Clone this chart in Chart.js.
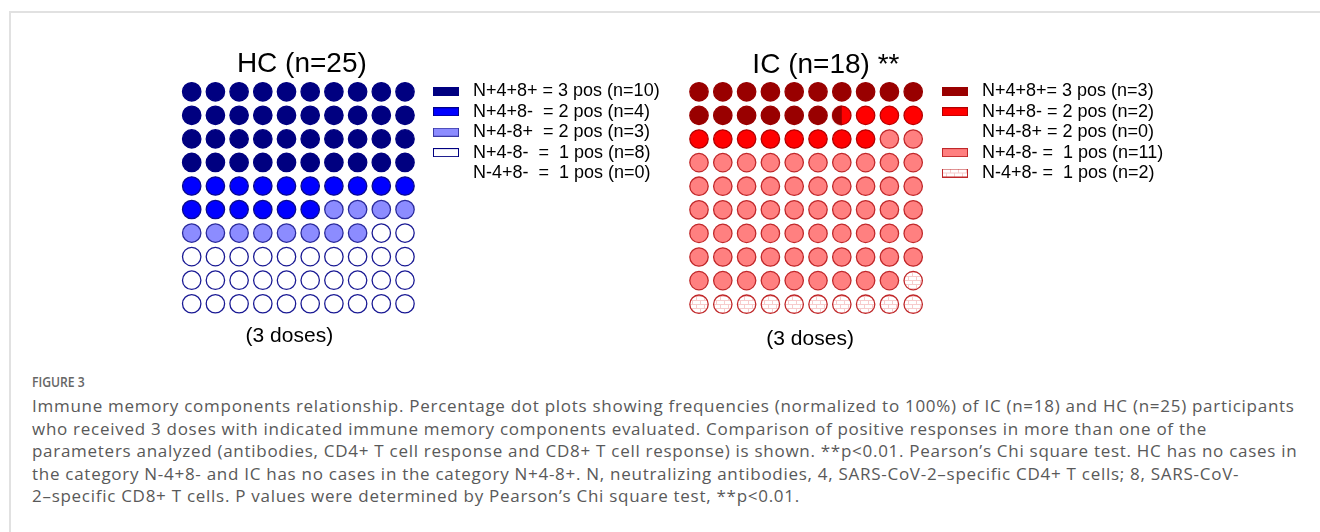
<!DOCTYPE html>
<html>
<head>
<meta charset="utf-8">
<script src="https://cdn.jsdelivr.net/npm/chart.js@4.4.1/dist/chart.umd.min.js"></script>
<style>
  html, body { margin: 0; padding: 0; background: #fff; width: 1320px; height: 532px; overflow: hidden; }
  #frame { position: absolute; left: 9px; top: 11px; width: 1400px; height: 600px;
           border-left: 2px solid #e1e1e1; border-top: 2px solid #e1e1e1; }
  canvas { position: absolute; top: 0; }
  #hc { left: 100px; }
  #ic { left: 600px; }
  .cap { position: absolute; left: 32px; white-space: nowrap; font-family: "Open Sans", sans-serif; }
  #figlabel { top: 372px; font-size: 14.5px; line-height: 20px; font-weight: 600; color: #666;
              transform: scaleX(0.84); transform-origin: left center; }
  #figtext { top: 395px; font-size: 17px; line-height: 22.6px; letter-spacing: 0.72px; color: #595959; }
</style>
</head>
<body>
<div id="frame"></div>
<canvas id="hc" width="600" height="360"></canvas>
<canvas id="ic" width="620" height="360"></canvas>
<div id="figlabel" class="cap">FIGURE 3</div>
<div id="figtext" class="cap">Immune memory components relationship. Percentage dot plots showing frequencies (normalized to 100%) of IC (n=18) and HC (n=25) participants<br>who received 3 doses with indicated immune memory components evaluated. Comparison of positive responses in more than one of the<br>parameters analyzed (antibodies, CD4+ T cell response and CD8+ T cell response) is shown. **p&lt;0.01. Pearson’s Chi square test. HC has no cases in<br>the category N-4+8- and IC has no cases in the category N+4-8+. N, neutralizing antibodies, 4, SARS-CoV-2–specific CD4+ T cells; 8, SARS-CoV-<br>2–specific CD8+ T cells. P values were determined by Pearson’s Chi square test, **p&lt;0.01.</div>

<script>
// ---- data ----
const hcLegend = ['N+4+8+ = 3 pos', 'N+4+8-  = 2 pos', 'N+4-8+  = 2 pos', 'N+4-8-  =  1 pos', 'N-4+8-  =  1 pos'];
const icLegend = ['N+4+8+= 3 pos', 'N+4+8- = 2 pos', 'N+4-8+ = 2 pos', 'N+4-8- =  1 pos', 'N-4+8- =  1 pos'];
const hcCounts = [10, 4, 3, 8, 0];
const icCounts = [3, 2, 0, 11, 2];
const hcTitle = 'HC (n=25)';
const icTitle = 'IC (n=18)';
const icMark = ' **';
const doseLabel = '(3 doses)';

// ---- styles ----
const FONT = '"Liberation Sans", Arial, sans-serif';
const LEGEND_SIZE = 18;
const LEGEND_PAD = 2.4;
const SWATCH_SLOT = 36;          // legend box slot width (pointStyleWidth)
const SWATCH_W = 26, SWATCH_H = 9;
const DOT_R = 9.2, DOT_BW = 1.3;

function makeCanvas(w, h) {
  const c = document.createElement('canvas');
  c.width = w; c.height = h;
  return c;
}

// light brick hatch used for the N-4+8- group
const brickTile = makeCanvas(8, 8);
(() => {
  const g = brickTile.getContext('2d');
  g.fillStyle = '#ffffff'; g.fillRect(0, 0, 8, 8);
  g.strokeStyle = '#f7cccc'; g.lineWidth = 1;
  g.beginPath();
  g.moveTo(0, 0.5); g.lineTo(8, 0.5);
  g.moveTo(0, 4.5); g.lineTo(8, 4.5);
  g.moveTo(0.5, 0); g.lineTo(0.5, 4);
  g.moveTo(4.5, 4); g.lineTo(4.5, 8);
  g.stroke();
})();
const brick = makeCanvas(1, 1).getContext('2d').createPattern(brickTile, 'repeat');

const hcStyle = {
  fill:   ['#000080', '#0000ff', '#8c8cff', '#ffffff', '#ffffff'],
  border: ['#000080', '#0a0a8c', '#2a2a9c', '#1a1a94', '#1a1a94'],
  swatchBorder: ['#000080', '#00008b', '#3a3aa6', '#000080', null]
};
const icStyle = {
  fill:   ['#990000', '#ff0000', '#ff0000', '#ff8080', brick],
  border: ['#990000', '#b40000', '#b40000', '#c0282a', '#c0282a'],
  swatchBorder: ['#990000', '#b40000', null, '#c0282a', '#c0282a']
};

function swatch(fill, border) {
  const c = makeCanvas(SWATCH_W, SWATCH_H);
  if (!border) return c;                     // empty category: no swatch
  const g = c.getContext('2d');
  g.fillStyle = fill; g.fillRect(0, 0, SWATCH_W, SWATCH_H);
  g.strokeStyle = border; g.lineWidth = 1;
  g.strokeRect(0.5, 0.5, SWATCH_W - 1, SWATCH_H - 1);
  return c;
}

// dot partly covered from the left (fraction f of its width)
function partialDot(fill, border, f) {
  const s = 22, c = makeCanvas(s, s), g = c.getContext('2d');
  const R = DOT_R + DOT_BW / 2;
  g.beginPath(); g.rect(0, 0, s / 2 - R + 2 * R * f, s); g.clip();
  g.beginPath(); g.arc(s / 2, s / 2, DOT_R, 0, Math.PI * 2);
  g.fillStyle = fill; g.fill();
  g.lineWidth = DOT_BW; g.strokeStyle = border; g.stroke();
  return c;
}

// 100-dot layout: group boundaries in percent, rounded to half a dot
function buildDots(counts) {
  const n = counts.reduce((a, b) => a + b, 0);
  const bounds = [];
  let cum = 0;
  counts.forEach(c => { cum += c; bounds.push(Math.round(cum / n * 200) / 2); });
  const perCat = counts.map(() => []);
  for (let i = 0; i < 100; i++) {
    const pt = { x: i % 10 + 1, y: Math.floor(i / 10) + 1 };
    let lo = 0;
    for (let k = 0; k < counts.length; k++) {
      const hi = bounds[k];
      if (hi > lo) {
        if (lo < i + 1 && hi >= i + 1) perCat[k].push({ ...pt, part: 1 });
        else if (hi > i && hi < i + 1 && lo <= i) perCat[k].push({ ...pt, part: hi - i });
      }
      lo = hi;
    }
  }
  return perCat;
}

const measure = makeCanvas(1, 1).getContext('2d');
measure.font = LEGEND_SIZE + 'px ' + FONT;

// titles and footer drawn relative to the dot grid
const panelText = {
  id: 'panelText',
  afterDraw(chart, args, o) {
    const { ctx } = chart;
    const cx = chart.scales.x.getPixelForValue(5.5);
    ctx.save();
    ctx.fillStyle = '#000';
    ctx.textBaseline = 'alphabetic';
    ctx.font = '28px ' + FONT;
    const w = ctx.measureText(o.title).width;
    ctx.textAlign = 'left';
    ctx.fillText(o.title + o.mark, cx + o.titleShift - w / 2, o.titleBase);
    ctx.font = '21px ' + FONT;
    ctx.textAlign = 'center';
    ctx.fillText(o.footer, cx + o.footerShift, o.footerBase);
    ctx.restore();
  }
};

function panel(id, canvasLeft, counts, legend, style, geo, text) {
  const canvas = document.getElementById(id);
  const W = canvas.width, H = canvas.height;
  const cellX = geo.cellX, cellY = geo.cellY;
  const gridLeft = geo.gridLeft - canvasLeft;
  const chartLeft = gridLeft - 40;
  const chartRight = geo.swatchLeft - canvasLeft - LEGEND_PAD - (SWATCH_SLOT - SWATCH_W) / 2;
  const chartTop = geo.gridTop;
  const chartBottom = geo.gridTop + 10 * cellY;
  const labels = counts.map((c, k) => legend[k] + ' (n=' + c + ')');
  const textW = Math.max(...labels.map(t => measure.measureText(t).width));
  const legendW = LEGEND_PAD + SWATCH_SLOT + LEGEND_SIZE / 2 + textW + 10;
  const xMin = 0.5 - (gridLeft - chartLeft) / cellX;
  const xMax = xMin + (chartRight - chartLeft) / cellX;

  const perCat = buildDots(counts);
  const datasets = perCat.map((pts, k) => ({
    label: labels[k],
    data: pts,
    backgroundColor: style.fill[k],
    borderColor: style.border[k],
    borderWidth: DOT_BW,
    pointRadius: DOT_R,
    pointHoverRadius: DOT_R,
    pointStyle: ctx => (ctx.raw && ctx.raw.part < 1)
      ? partialDot(style.fill[k], style.border[k], ctx.raw.part) : 'circle'
  }));

  return new Chart(canvas, {
    type: 'scatter',
    data: { datasets },
    plugins: [panelText],
    options: {
      responsive: false,
      animation: false,
      devicePixelRatio: 1,
      events: [],
      layout: { padding: { left: chartLeft, top: chartTop, bottom: H - chartBottom, right: W - chartRight - legendW } },
      scales: {
        x: { type: 'linear', min: xMin, max: xMax, display: false },
        y: { type: 'linear', min: 0.5, max: 10.5, reverse: true, display: false }
      },
      plugins: {
        tooltip: { enabled: false },
        title: { display: false },
        legend: {
          display: true,
          position: 'right',
          align: 'start',
          labels: {
            color: '#000',
            font: { family: FONT, size: LEGEND_SIZE },
            padding: LEGEND_PAD,
            usePointStyle: true,
            pointStyleWidth: SWATCH_SLOT,
            generateLabels: () => labels.map((t, k) => ({
              text: t,
              pointStyle: swatch(style.fill[k], counts[k] > 0 ? style.swatchBorder[k] : null),
              fillStyle: 'transparent',
              strokeStyle: 'transparent',
              lineWidth: 0,
              hidden: false,
              datasetIndex: k
            }))
          }
        },
        panelText: text
      }
    }
  });
}

panel('hc', 100, hcCounts, hcLegend, hcStyle,
  { gridLeft: 179.85, gridTop: 80, cellX: 23.7, cellY: 23.55, swatchLeft: 433 },
  { title: hcTitle, mark: '', titleShift: 3.5, titleBase: 71.5, footer: doseLabel, footerShift: -9, footerBase: 342 });

panel('ic', 600, icCounts, icLegend, icStyle,
  { gridLeft: 687.1, gridTop: 80, cellX: 23.8, cellY: 23.6, swatchLeft: 942 },
  { title: icTitle, mark: icMark, titleShift: 5, titleBase: 73, footer: doseLabel, footerShift: 4, footerBase: 345 });
</script>
</body>
</html>
